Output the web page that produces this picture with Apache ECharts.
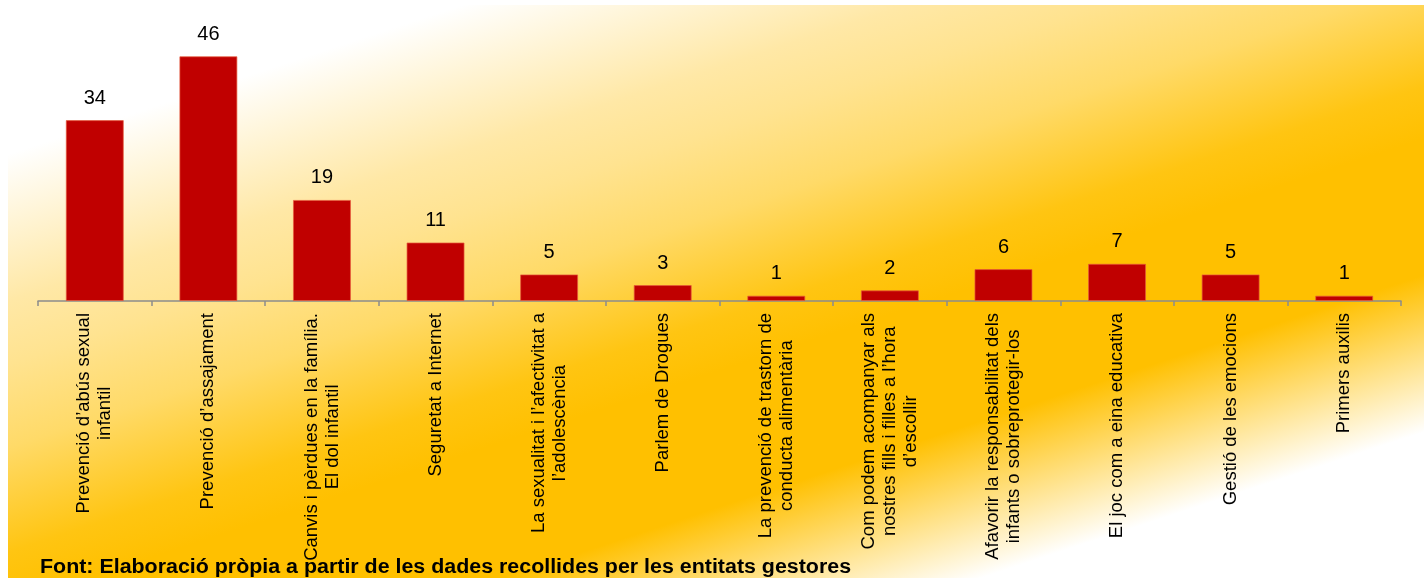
<!DOCTYPE html>
<html>
<head>
<meta charset="utf-8">
<title>Tallers per temàtica</title>
<script src="https://cdn.jsdelivr.net/npm/echarts@6/dist/echarts.min.js"></script>
<style>
    html, body { margin: 0; padding: 0; background: #fff; }
    #main { width: 1424px; height: 578px; }
</style>
</head>
<body>
<div id="main"></div>
<script>
// categories (line breaks as in the original)
const categories = [
    'Prevenció d’abús sexual\ninfantil',
    'Prevenció d’assajament',
    'Canvis i pèrdues en la família.\nEl dol infantil',
    'Seguretat a Internet',
    'La sexualitat i l’afectivitat a\nl’adolescència',
    'Parlem de Drogues',
    'La prevenció de trastorn de\nconducta alimentària',
    'Com podem acompanyar als\nnostres fills i filles a l’hora\nd’escollir',
    'Afavorir la responsabilitat dels\ninfants o sobreprotegir-los',
    'El joc com a eina educativa',
    'Gestió de les emocions',
    'Primers auxilis'
];

const values = [34, 46, 19, 11, 5, 3, 1, 2, 6, 7, 5, 1];

const footnote = 'Font: Elaboració pròpia a partir de les dades recollides per les entitats gestores';

const FONT = '"Liberation Sans", Arial, sans-serif';

function renderChart(dom) {
    const myChart = echarts.init(dom, null, { renderer: 'canvas' });

    // fons: degradat blanc - taronja - blanc en diagonal
    const bg = new echarts.graphic.LinearGradient(0, 0, 311, 945, [
        { offset: 0, color: '#FFFFFF' },
        { offset: 0.15, color: '#FFFFFF' },
        { offset: 0.29, color: '#FFE8A6' },
        { offset: 0.35, color: '#FFE390' },
        { offset: 0.43, color: '#FFDA68' },
        { offset: 0.53, color: '#FFC512' },
        { offset: 0.58, color: '#FFC000' },
        { offset: 0.71, color: '#FFC000' },
        { offset: 0.86, color: '#FFFFFF' },
        { offset: 1, color: '#FFFFFF' }
    ], true);

    const option = {
        animation: false,
        graphic: [
            {
                type: 'rect',
                z: -10,
                silent: true,
                shape: { x: 8, y: 5, width: 1416, height: 573 },
                style: { fill: bg }
            },
            {
                // font de les dades (text lleugerament eixamplat com a l'original)
                type: 'text',
                z: 10,
                silent: true,
                x: 40,
                y: 557,
                scaleX: 1.07,
                style: {
                    text: footnote,
                    x: 0,
                    y: 0,
                    verticalAlign: 'top',
                    fontFamily: FONT,
                    fontWeight: 'bold',
                    fontSize: 20,
                    fill: '#000'
                }
            }
        ],
        grid: {
            left: 38,
            right: 23,
            top: 35,
            bottom: 277,
            containLabel: false
        },
        xAxis: {
            type: 'category',
            data: categories,
            axisLine: {
                lineStyle: { color: '#8C8C8C', width: 1.5 }
            },
            axisTick: {
                show: true,
                length: 5,
                lineStyle: { color: '#8C8C8C', width: 1.5 }
            },
            axisLabel: {
                interval: 0,
                rotate: 90,
                margin: 12,
                formatter: (v) => '{c|' + v + '}',
                rich: {
                    c: {
                        align: 'center',
                        fontFamily: FONT,
                        fontSize: 18.5,
                        lineHeight: 21,
                        color: '#000'
                    }
                }
            }
        },
        yAxis: {
            type: 'value',
            min: 0,
            max: 50,
            show: false
        },
        series: [
            {
                type: 'bar',
                data: values,
                barWidth: 58,
                itemStyle: {
                    color: '#C00000',
                    borderColor: 'rgba(230, 90, 60, 0.7)',
                    borderWidth: 1
                },
                label: {
                    show: true,
                    position: 'top',
                    distance: 12,
                    fontFamily: FONT,
                    fontSize: 20,
                    color: '#000'
                }
            }
        ]
    };

    myChart.setOption(option);
}

renderChart(document.getElementById('main'));
</script>
</body>
</html>
